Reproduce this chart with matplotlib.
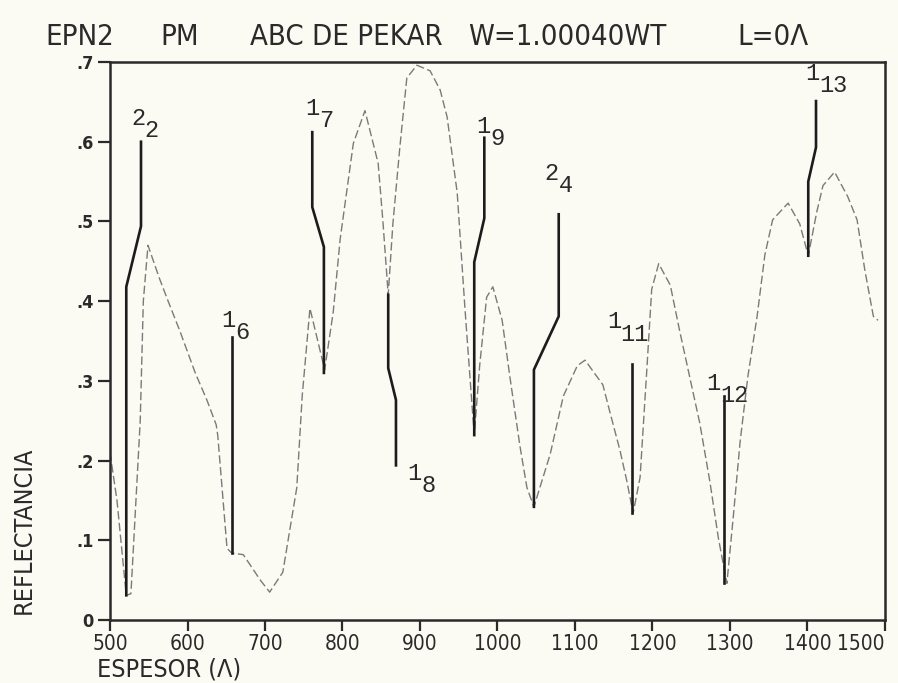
import matplotlib.pyplot as plt
from matplotlib import transforms

# curva de reflectancia
espesor = [500, 509, 521, 527, 539, 543, 549, 564, 575, 590, 610, 625, 637, 639,
           651, 657, 672, 694, 706, 723, 741, 748, 758, 777, 788, 797, 814, 829,
           846, 852, 859, 865, 874, 883, 896, 913, 926, 935, 948, 958, 967, 970,
           977, 986, 994, 1006, 1016, 1029, 1038, 1047, 1068, 1085, 1103, 1113,
           1136, 1145, 1158, 1167, 1175, 1184, 1193, 1199, 1208, 1223, 1235, 1248,
           1261, 1274, 1285, 1296, 1304, 1313, 1323, 1335, 1345, 1355, 1375, 1390,
           1401, 1412, 1420, 1435, 1452, 1464, 1474, 1485, 1491]
reflect = [0.210, 0.150, 0.031, 0.033, 0.250, 0.400, 0.470, 0.428, 0.400, 0.363,
           0.310, 0.276, 0.245, 0.232, 0.090, 0.084, 0.082, 0.050, 0.035, 0.060,
           0.166, 0.281, 0.391, 0.314, 0.386, 0.478, 0.598, 0.639, 0.573, 0.502,
           0.408, 0.497, 0.593, 0.680, 0.696, 0.689, 0.665, 0.631, 0.536, 0.391,
           0.271, 0.232, 0.319, 0.405, 0.418, 0.376, 0.305, 0.218, 0.166, 0.142,
           0.208, 0.281, 0.319, 0.326, 0.295, 0.261, 0.213, 0.174, 0.134, 0.179,
           0.319, 0.415, 0.447, 0.420, 0.363, 0.305, 0.247, 0.174, 0.103, 0.046,
           0.127, 0.223, 0.305, 0.381, 0.458, 0.502, 0.523, 0.497, 0.457, 0.512,
           0.545, 0.562, 0.531, 0.502, 0.439, 0.381, 0.376]

# lineas de referencia de cada minimo (x, y)
lin_22 = ([521, 521, 540, 540], [0.031, 0.418, 0.494, 0.600])
lin_16 = ([657, 657], [0.084, 0.355])
lin_17 = ([776, 776, 761, 761], [0.310, 0.468, 0.518, 0.612])
lin_18 = ([859, 859, 869, 869], [0.408, 0.316, 0.276, 0.194])
lin_19 = ([970, 970, 983, 983], [0.232, 0.449, 0.504, 0.605])
lin_24 = ([1047, 1047, 1079, 1079], [0.142, 0.314, 0.381, 0.509])
lin_111 = ([1174, 1174], [0.134, 0.321])
lin_112 = ([1292, 1292], [0.046, 0.281])
lin_113 = ([1401, 1401, 1411, 1411], [0.457, 0.550, 0.593, 0.651])
lineas = [lin_22, lin_16, lin_17, lin_18, lin_19, lin_24, lin_111, lin_112, lin_113]

# etiquetas: numero, subindice, posicion
etiq_num = ['2', '1', '1', '1', '1', '2', '1', '1', '1']
etiq_sub = ['2', '6', '7', '8', '9', '4', '11', '12', '13']
etiq_x = [527, 644, 752, 884, 973, 1061, 1141, 1270, 1397]
etiq_y = [0.621, 0.368, 0.634, 0.176, 0.611, 0.552, 0.366, 0.289, 0.678]

xticks = [500, 600, 700, 800, 900, 1000, 1100, 1200, 1300, 1400, 1500]
yticks = [0, 0.1, 0.2, 0.3, 0.4, 0.5, 0.6, 0.7]
ylabels = ['0', '.1', '.2', '.3', '.4', '.5', '.6', '.7']

papel = '#fbfaf3'
tinta = '#2a2a2a'
narrow = dict(family='DejaVu Sans', stretch='condensed')
mono = ['Liberation Mono', 'DejaVu Sans Mono']

fig = plt.figure(figsize=(8.98, 6.83), dpi=100, facecolor=papel)
ax = fig.add_axes([0.1225, 0.0922, 0.863, 0.817], facecolor=papel)

ax.plot(espesor, reflect, color='#7a7a7a', lw=1.0, linestyle=(0, (6, 2.5)))
for lx, ly in lineas:
    ax.plot(lx, ly, color='#1c1c1c', lw=1.9)

off = transforms.offset_copy(ax.transData, fig=fig, x=10, y=-9, units='points')
for n, s, x, y in zip(etiq_num, etiq_sub, etiq_x, etiq_y):
    ax.text(x, y, n, family=mono, fontsize=17, color=tinta, ha='left', va='baseline')
    ax.text(x, y, s, family=mono, fontsize=17, color=tinta, ha='left', va='baseline',
            transform=off)

ax.set_xlim(500, 1500)
ax.set_ylim(0, 0.7)
ax.set_xticks(xticks)
ax.set_xticklabels([str(t) for t in xticks], fontsize=15, color=tinta, **narrow)
ax.set_yticks(yticks)
ax.set_yticklabels(ylabels, fontsize=13, color=tinta, fontweight='bold', **narrow)
ax.get_xticklabels()[-1].set_horizontalalignment('right')
ax.tick_params(axis='x', direction='out', length=8, width=1.6, color=tinta, pad=2)
ax.tick_params(axis='y', direction='out', length=9, width=1.6, color=tinta, pad=3)
for sp in ax.spines.values():
    sp.set_linewidth(1.8)
    sp.set_color(tinta)

fig.text(0.108, 0.010, 'ESPESOR (Λ)', fontsize=18, color=tinta, **narrow)
fig.text(0.027, 0.224, 'REFLECTANCIA', fontsize=18, color=tinta,
         rotation=90, ha='center', va='center', **narrow)

# titulo en partes, como en la salida del plotter
titulo = ['EPN2', 'PM', 'ABC DE PEKAR', 'W=1.00040WT', 'L=0Λ']
titulo_x = [45, 160, 250, 468, 737]
for t, px in zip(titulo, titulo_x):
    fig.text(px / 898, 1 - 45 / 683, t, fontsize=21, color=tinta,
             va='baseline', **narrow)

fig.savefig('out.png', dpi=100, facecolor=papel)
